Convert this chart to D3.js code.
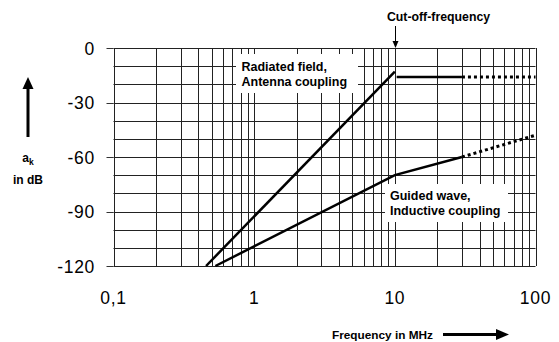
<!DOCTYPE html>
<html><head><meta charset="utf-8">
<script src="https://cdn.jsdelivr.net/npm/d3@7"></script>
<style>
html,body{margin:0;padding:0;background:#fff;}
svg{display:block;font-family:"Liberation Sans",Arial,sans-serif;}
</style></head>
<body>
<svg id="chart" width="559" height="342"></svg>
<script>
// Data
const xTickValues = [0.1, 1, 10, 100];
const xTickLabels = ["0,1", "1", "10", "100"];
const yTickValues = [0, -30, -60, -90, -120];
const yTickLabels = ["0", "-30", "-60", "-90", "-120"];
const radiatedRise = [[0.455, -120], [10, -13]];
const radiatedFlatSolid = [[10.3, -16], [30, -16]];
const radiatedFlatDotted = [[30, -16], [100, -16]];
const guidedSolid = [[0.53, -120], [10, -70], [30, -60]];
const guidedDotted = [[30, -60], [100, -48]];
const cutoffFrequency = 10;

const svg = d3.select("#chart");
const x = d3.scaleLog().domain([0.1, 100]).range([113.5, 535.5]);
const y = d3.scaleLinear().domain([-120, 0]).range([266, 48]);

// grid
const vGrid = [];
for (let d = 0.1; d < 100; d *= 10) for (let k = 1; k < 10; k++) vGrid.push(+(d * k).toPrecision(3));
vGrid.push(100);
const hGrid = d3.range(-120, 1, 10);
const g = svg.append("g");
g.selectAll("line.v").data(vGrid).join("line")
  .attr("x1", d => Math.round(x(d)) + 0.5).attr("x2", d => Math.round(x(d)) + 0.5)
  .attr("y1", y(0)).attr("y2", y(-120))
  .attr("stroke", "#222").attr("stroke-width", 1);
g.selectAll("line.h").data(hGrid).join("line")
  .attr("y1", d => Math.round(y(d)) + 0.5).attr("y2", d => Math.round(y(d)) + 0.5)
  .attr("x1", x(0.1)).attr("x2", x(100))
  .attr("stroke", "#222").attr("stroke-width", 1);
// small tick stubs on y axis
g.selectAll("line.yt").data(yTickValues).join("line")
  .attr("x1", x(0.1) - 7).attr("x2", x(0.1))
  .attr("y1", d => Math.round(y(d)) + 0.5).attr("y2", d => Math.round(y(d)) + 0.5)
  .attr("stroke", "#333");

// label boxes (white)
svg.append("rect").attr("x", 236).attr("y", 54).attr("width", 122).attr("height", 39).attr("fill", "#fff");
svg.append("rect").attr("x", 385).attr("y", 184).attr("width", 123).attr("height", 38).attr("fill", "#fff");

// lines
const line = d3.line().x(d => x(d[0])).y(d => y(d[1]));
function draw(data, dotted) {
  svg.append("path").attr("d", line(data)).attr("fill", "none")
    .attr("stroke", "#000").attr("stroke-width", dotted ? 3 : 2.5)
    .attr("stroke-dasharray", dotted ? "3,3" : null);
}
draw(radiatedRise, false);
draw(radiatedFlatSolid, false);
draw(radiatedFlatDotted, true);
draw(guidedSolid, false);
draw(guidedDotted, true);

// tick labels
svg.selectAll("text.yt").data(yTickValues).join("text")
  .attr("x", 95).attr("y", d => y(d) + 6.5).attr("text-anchor", "end")
  .attr("font-size", 17.5).attr("letter-spacing", 0.7).text((d, i) => yTickLabels[i]);
svg.selectAll("text.xt").data(xTickValues).join("text")
  .attr("x", d => x(d)).attr("y", 303.5).attr("text-anchor", "middle")
  .attr("font-size", 17.5).attr("letter-spacing", 0.7).text((d, i) => xTickLabels[i]);

// annotations
function label(xp, yp, lines) {
  const t = svg.append("text").attr("x", xp).attr("y", yp).attr("font-size", 12.5).attr("font-weight", "bold");
  lines.forEach((s, i) => t.append("tspan").attr("x", xp).attr("dy", i === 0 ? 0 : 15.5).text(s));
}
label(241.5, 70.5, ["Radiated field,", "Antenna coupling"]);
label(390, 199.5, ["Guided wave,", "Inductive coupling"]);

svg.append("text").attr("x", 438.5).attr("y", 20.5).attr("text-anchor", "middle")
  .attr("font-size", 12.3).attr("font-weight", "bold").text("Cut-off-frequency");
const cx = Math.round(x(cutoffFrequency)) + 0.5;
svg.append("line").attr("x1", cx).attr("x2", cx).attr("y1", 26).attr("y2", 42).attr("stroke", "#000").attr("stroke-width", 1);
svg.append("path").attr("d", `M${cx - 3},41 L${cx + 3},41 L${cx},48 Z`).attr("fill", "#000");

// y axis label with arrow
svg.append("rect").attr("x", 26.5).attr("y", 87).attr("width", 3).attr("height", 50).attr("fill", "#000");
svg.append("path").attr("d", "M22.5,89 L33.5,89 L28,77 Z").attr("fill", "#000");
const ak = svg.append("text").attr("x", 28).attr("y", 162).attr("text-anchor", "middle")
  .attr("font-size", 12).attr("font-weight", "bold");
ak.append("tspan").text("a");
ak.append("tspan").attr("font-size", 8.5).attr("dy", 2.5).text("k");
svg.append("text").attr("x", 28).attr("y", 183.5).attr("text-anchor", "middle")
  .attr("font-size", 12).attr("font-weight", "bold").text("in dB");

// x axis label with arrow
svg.append("text").attr("x", 332).attr("y", 338.5).attr("font-size", 11.8).attr("font-weight", "bold").text("Frequency in MHz");
svg.append("rect").attr("x", 443).attr("y", 333).attr("width", 54).attr("height", 3).attr("fill", "#000");
svg.append("path").attr("d", "M496,329 L496,340 L509,334.5 Z").attr("fill", "#000");
</script>
</body></html>
